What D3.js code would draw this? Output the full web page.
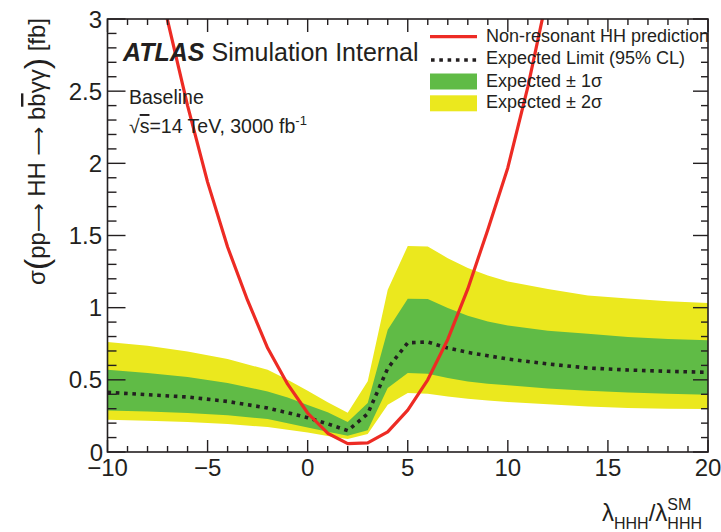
<!DOCTYPE html>
<html>
<head>
<meta charset="utf-8">
<script src="https://cdn.jsdelivr.net/npm/d3@7"></script>
<style>
  body { margin: 0; background: #fff; }
  svg text { font-family: "Liberation Sans", Arial, Helvetica, sans-serif; fill: #231f20; }
</style>
</head>
<body>
<div id="app"></div>
<script>
// expected limit scan points
const lambdaLim = [-10, -8, -6, -4, -2, -1, 0, 1, 2, 3, 4, 5, 6, 7, 8, 9, 10, 12, 14, 16, 18, 20];
const expMedian = [0.413, 0.397, 0.381, 0.350, 0.305, 0.272, 0.238, 0.195, 0.148, 0.265, 0.58, 0.757, 0.762, 0.72, 0.69, 0.667, 0.644, 0.61, 0.582, 0.568, 0.559, 0.552];
const exp1Up = [0.570, 0.547, 0.519, 0.478, 0.420, 0.378, 0.325, 0.275, 0.208, 0.340, 0.847, 1.062, 1.060, 0.997, 0.944, 0.905, 0.877, 0.84, 0.82, 0.797, 0.783, 0.774];
const exp1Dn = [0.288, 0.281, 0.270, 0.254, 0.228, 0.200, 0.170, 0.140, 0.112, 0.150, 0.443, 0.547, 0.542, 0.512, 0.489, 0.473, 0.462, 0.44, 0.424, 0.413, 0.403, 0.397];
const exp2Up = [0.762, 0.736, 0.697, 0.644, 0.570, 0.500, 0.425, 0.345, 0.272, 0.490, 1.124, 1.427, 1.424, 1.343, 1.274, 1.223, 1.182, 1.129, 1.085, 1.063, 1.045, 1.032];
const exp2Dn = [0.224, 0.217, 0.208, 0.194, 0.173, 0.154, 0.135, 0.110, 0.090, 0.125, 0.328, 0.408, 0.404, 0.385, 0.369, 0.357, 0.346, 0.330, 0.315, 0.305, 0.300, 0.298];

// non-resonant HH prediction
const lambdaTh = [-8, -7, -6, -5, -4, -3, -2, -1, 0, 1, 2, 3, 4, 5, 6, 7, 8, 9, 10, 11, 12];
const xsecTh = [3.64, 2.99, 2.40, 1.87, 1.42, 1.05, 0.72, 0.47, 0.27, 0.13, 0.058, 0.063, 0.14, 0.29, 0.50, 0.78, 1.13, 1.54, 1.97, 2.53, 3.18];

const legendLabels = ["Non-resonant HH prediction", "Expected Limit (95% CL)", "Expected \u00b1 1\u03c3", "Expected \u00b1 2\u03c3"];

const width = 721;
const height = 532;
const colRed = "#ed2b24";
const colGreen = "#60bb46";
const colYellow = "#ebe81e";
const ink = "#231f20";

const x = d3.scaleLinear().domain([-10, 20]).range([107.5, 708]);
const y = d3.scaleLinear().domain([0, 3]).range([452, 19]);

const svg = d3.select("#app").append("svg").attr("width", width).attr("height", height);

svg.append("clipPath").attr("id", "plot")
  .append("rect")
  .attr("x", x.range()[0]).attr("y", y.range()[1])
  .attr("width", x.range()[1] - x.range()[0]).attr("height", y.range()[0] - y.range()[1]);

const plot = svg.append("g").attr("clip-path", "url(#plot)");

const lim = lambdaLim.map((l, i) => ({ l, med: expMedian[i], u1: exp1Up[i], d1: exp1Dn[i], u2: exp2Up[i], d2: exp2Dn[i] }));

// BANDS
plot.append("path").datum(lim)
  .attr("fill", colYellow)
  .attr("d", d3.area().x(d => x(d.l)).y0(d => y(d.d2)).y1(d => y(d.u2)));
plot.append("path").datum(lim)
  .attr("fill", colGreen)
  .attr("d", d3.area().x(d => x(d.l)).y0(d => y(d.d1)).y1(d => y(d.u1)));

// EXPECTED LIMIT
plot.append("path").datum(lim)
  .attr("fill", "none")
  .attr("stroke", ink)
  .attr("stroke-width", 3.6)
  .attr("stroke-dasharray", "3.6 4.7")
  .attr("d", d3.line().x(d => x(d.l)).y(d => y(d.med)));

// PREDICTION
plot.append("path").datum(lambdaTh.map((l, i) => [l, xsecTh[i]]))
  .attr("fill", "none")
  .attr("stroke", colRed)
  .attr("stroke-width", 3.2)
  .attr("stroke-linejoin", "round")
  .attr("d", d3.line().x(d => x(d[0])).y(d => y(d[1])));

// FRAME AND TICKS
const axes = svg.append("g").attr("stroke", ink).attr("fill", "none");
const [x0, x1] = x.range();
const [y0, y1] = y.range();
axes.append("rect").attr("x", x0).attr("y", y1).attr("width", x1 - x0).attr("height", y0 - y1).attr("stroke-width", 1.6);

const xMajor = x.ticks(6);
const xMinor = x.ticks(30).filter(v => !xMajor.includes(v));
const yMajor = y.ticks(6);
const yMinor = y.ticks(30).filter(v => !yMajor.some(m => Math.abs(m - v) < 1e-9));

function ticks(vals, fn) {
  vals.forEach(v => {
    const [a, b, c, d] = fn(v);
    axes.append("line").attr("x1", a).attr("y1", b).attr("x2", c).attr("y2", d).attr("stroke-width", 1.4);
  });
}
ticks(xMajor, v => [x(v), y0, x(v), y0 - 12]);
ticks(xMinor, v => [x(v), y0, x(v), y0 - 6]);
ticks(xMajor, v => [x(v), y1, x(v), y1 + 13]);
ticks(xMinor, v => [x(v), y1, x(v), y1 + 6]);
ticks(yMajor, v => [x0, y(v), x0 + 18, y(v)]);
ticks(yMinor, v => [x0, y(v), x0 + 9, y(v)]);
ticks(yMajor, v => [x1, y(v), x1 - 15, y(v)]);
ticks(yMinor, v => [x1, y(v), x1 - 7, y(v)]);

// TICK LABELS
const fmtX = d3.format("d");
svg.append("g").selectAll("text").data(xMajor).join("text")
  .attr("x", d => x(d)).attr("y", 476)
  .attr("text-anchor", "middle")
  .attr("font-size", 24)
  .text(d => fmtX(d));

svg.append("g").selectAll("text").data(yMajor).join("text")
  .attr("x", d => (d === 0 ? 103 : 102)).attr("y", d => y(d) + 8.5)
  .attr("text-anchor", "end")
  .attr("font-size", 24)
  .text(d => String(d));

// X AXIS TITLE
const xt = svg.append("g").attr("transform", "translate(602,521)");
let cx = 0;
function piece(str, size, dy) {
  const t = xt.append("text").attr("x", cx).attr("y", dy).attr("font-size", size).text(str);
  const w = t.node().getComputedTextLength();
  return { t, w };
}
let p = piece("\u03bb", 24, 0); cx += p.w;
p = piece("HHH", 16, 8); cx += p.w;
p = piece("/", 24, 0); cx += p.w;
p = piece("\u03bb", 24, 0); cx += p.w;
piece("SM", 16, -11);
piece("HHH", 16, 8);

// Y AXIS TITLE
const arrowFont = "DejaVu Sans";
const yt = svg.append("text")
  .attr("transform", "translate(45,18) rotate(-90)")
  .attr("text-anchor", "end")
  .attr("font-size", 24);
yt.append("tspan").text("\u03c3");
yt.append("tspan").attr("font-size", 34).attr("dy", 3).attr("font-weight", 300).text("(");
yt.append("tspan").attr("dy", -3).text("pp");
yt.append("tspan").style("font-family", arrowFont).attr("font-size", 20).text("\u27f6");
yt.append("tspan").text(" HH ");
yt.append("tspan").style("font-family", arrowFont).attr("font-size", 20).text("\u27f6");
yt.append("tspan").text(" b");
yt.append("tspan").style("text-decoration", "overline").text("b");
yt.append("tspan").text("\u03b3\u03b3");
yt.append("tspan").attr("font-size", 34).attr("dy", 3).attr("font-weight", 300).text(")");
yt.append("tspan").attr("dy", -3).text(" [fb]");

// LABELS
const atlas = svg.append("text").attr("x", 123).attr("y", 61).attr("font-size", 25);
atlas.append("tspan").attr("font-weight", "bold").attr("font-style", "italic").text("ATLAS");
atlas.append("tspan").attr("dx", 7).text("Simulation Internal");

svg.append("text").attr("x", 129).attr("y", 104).attr("font-size", 19.5).text("Baseline");
const lumi = svg.append("text").attr("x", 129).attr("y", 133).attr("font-size", 19.5);
lumi.append("tspan").text("\u221a");
lumi.append("tspan").style("text-decoration", "overline").text("s");
lumi.append("tspan").text("=14 TeV, 3000 fb");
lumi.append("tspan").attr("font-size", 13).attr("dy", -8).text("-1");

// LEGEND
const legend = svg.append("g");
const rowY = [41.7, 64, 86.5, 108.3];
legend.selectAll("text").data(legendLabels).join("text")
  .attr("x", 486).attr("y", (d, i) => rowY[i])
  .attr("font-size", 18)
  .text(d => d);
legend.append("line").attr("x1", 430).attr("x2", 477).attr("y1", rowY[0] - 5).attr("y2", rowY[0] - 5)
  .attr("stroke", colRed).attr("stroke-width", 3.2);
legend.append("line").attr("x1", 431).attr("x2", 477).attr("y1", rowY[1] - 4).attr("y2", rowY[1] - 4)
  .attr("stroke", ink).attr("stroke-width", 3.6).attr("stroke-dasharray", "3.6 4.7");
legend.append("rect").attr("x", 430).attr("y", rowY[2] - 13).attr("width", 47).attr("height", 16).attr("fill", colGreen);
legend.append("rect").attr("x", 430).attr("y", rowY[3] - 13).attr("width", 47).attr("height", 16).attr("fill", colYellow);
</script>
</body>
</html>
